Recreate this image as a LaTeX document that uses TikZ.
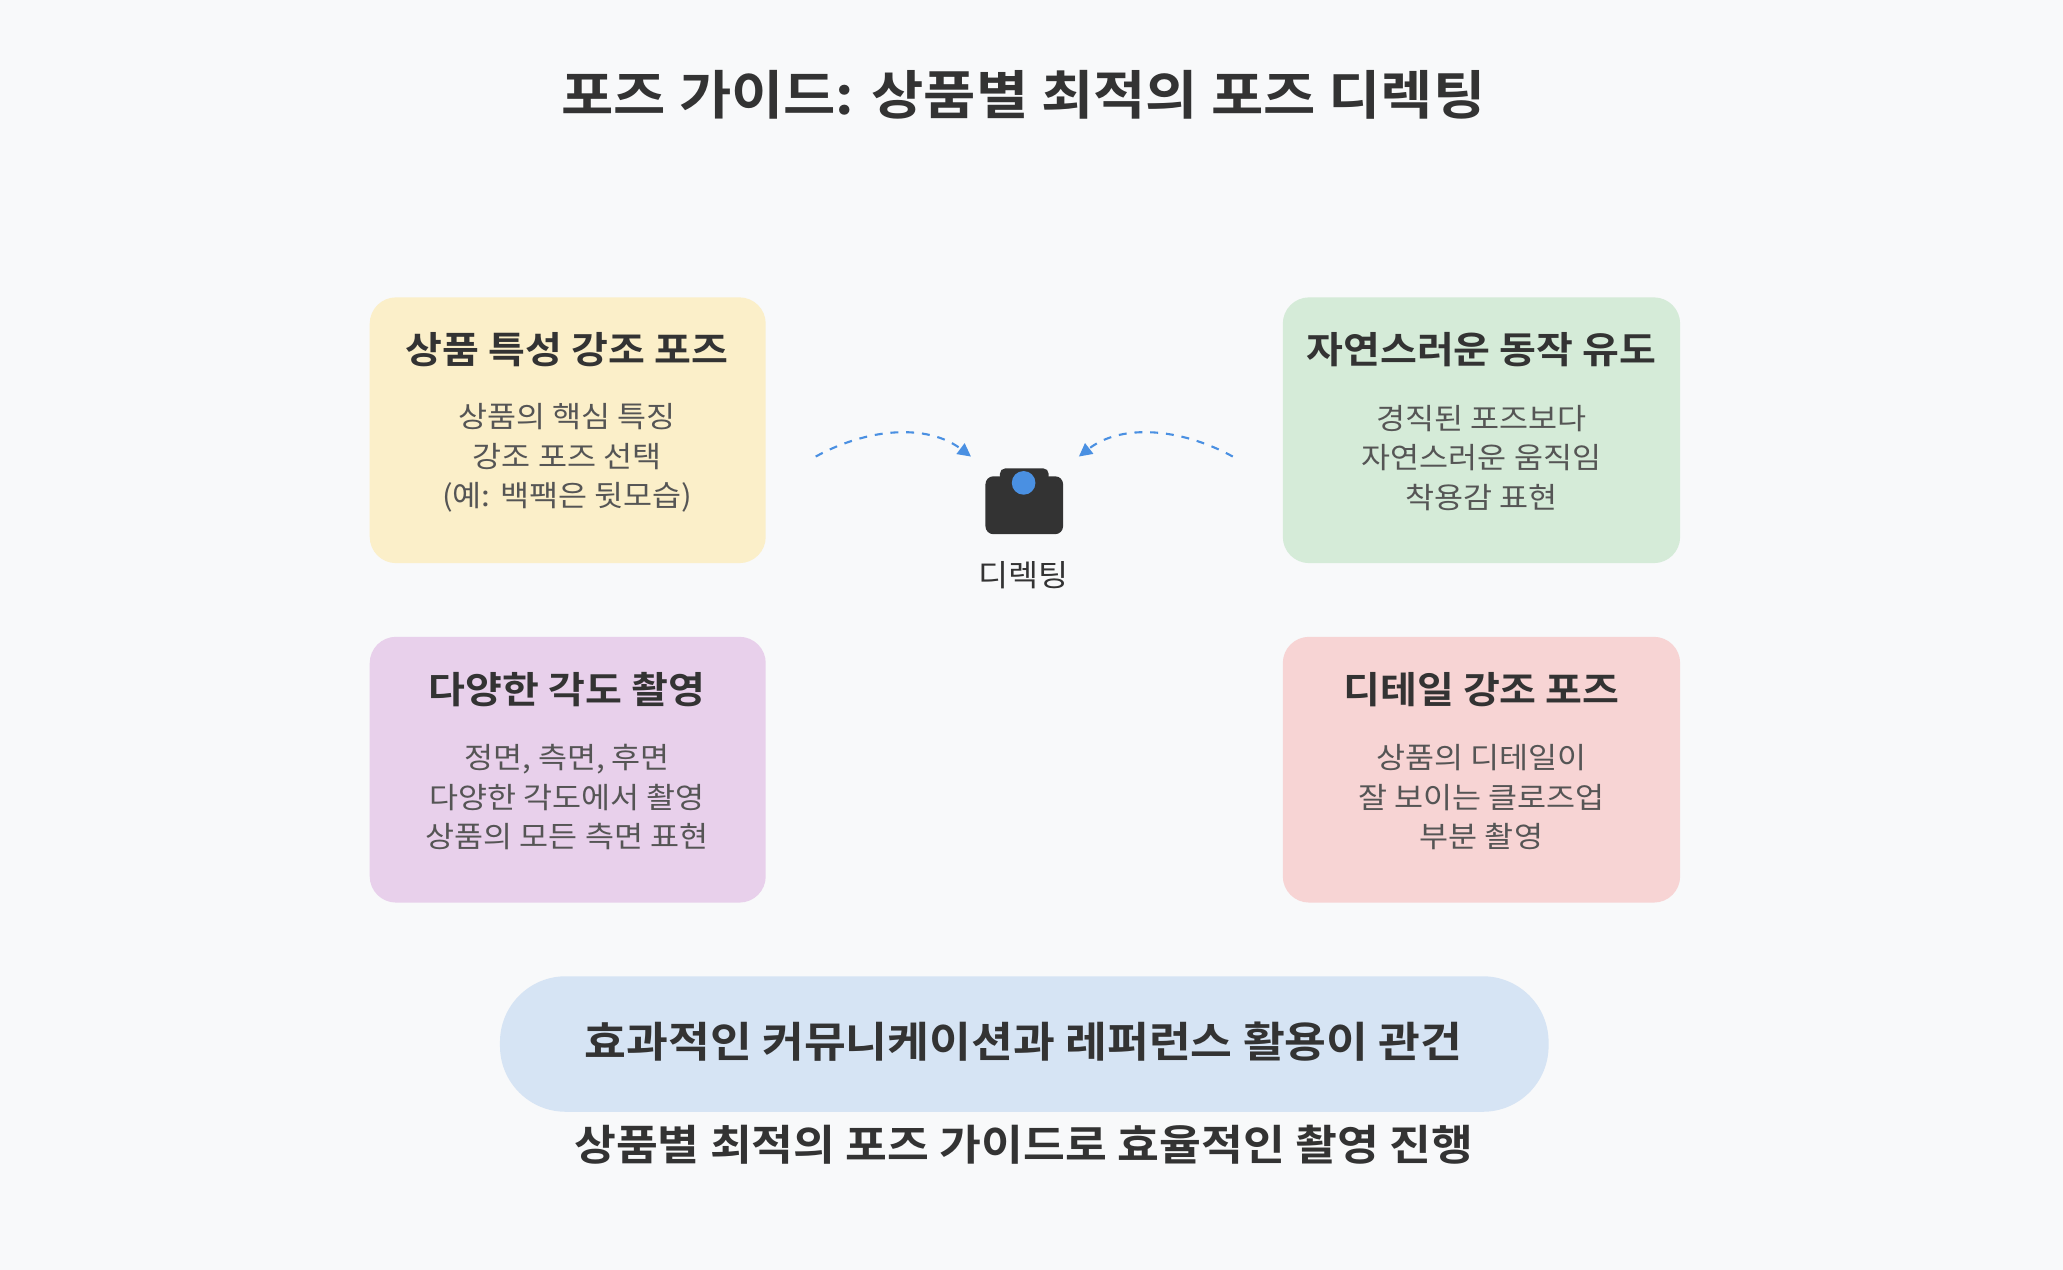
\documentclass[tikz,border=0pt]{standalone}
\usepackage{fontspec}
\setmainfont{Noto Sans CJK KR}[FakeStretch=1.08]
\newfontfamily\kb{Noto Sans CJK KR Bold}[FakeStretch=1.08]
\usetikzlibrary{arrows.meta}
\definecolor{bg}{HTML}{F8F9FA}
\definecolor{tx}{HTML}{333333}
\definecolor{sub}{HTML}{555555}
\definecolor{cy}{HTML}{FBEFC9}
\definecolor{cg}{HTML}{D5EBD8}
\definecolor{cp}{HTML}{E8D0EB}
\definecolor{cr}{HTML}{F7D4D4}
\definecolor{cb}{HTML}{D6E4F4}
\definecolor{ab}{HTML}{4A90E2}
\tikzset{
 card/.style={rounded corners=10pt,draw=none},
 ctitle/.style={font=\kb\fontsize{14.1}{16}\selectfont,text=tx},
 cbody/.style={font=\fontsize{11.1}{15}\selectfont,text=sub,align=center},
 big/.style={font=\kb\fontsize{16}{19}\selectfont,text=tx},
 dash arrow/.style={draw=ab,dashed,line width=0.8pt,-{Triangle[length=5pt,width=5pt]}}
}
\begin{document}
\begin{tikzpicture}[x=0.5pt,y=-0.5pt]
\fill[bg] (0,0) rectangle (1568,965);
\useasboundingbox (0,0) rectangle (1568,965);
\node[font=\kb\fontsize{20}{24}\selectfont,text=tx] (title) at (778,72) {포즈 가이드: 상품별 최적의 포즈 디렉팅};
\fill[card,cy] (281,226) rectangle (582,428);
\fill[card,cg] (975,226) rectangle (1277,428);
\fill[card,cp] (281,484) rectangle (582,686);
\fill[card,cr] (975,484) rectangle (1277,686);
\node[ctitle] (t1) at (431,266) {상품 특성 강조 포즈};
\node[cbody] (b1) at (431,348) {상품의 핵심 특징\\강조 포즈 선택\\(예: 백팩은 뒷모습)};
\node[ctitle] (t2) at (1126,266) {자연스러운 동작 유도};
\node[cbody] (b2) at (1126,348) {경직된 포즈보다\\자연스러운 움직임\\착용감 표현};
\node[ctitle] (t3) at (431,524) {다양한 각도 촬영};
\node[cbody] (b3) at (431,606) {정면, 측면, 후면\\다양한 각도에서 촬영\\상품의 모든 측면 표현};
\node[ctitle] (t4) at (1126,524) {디테일 강조 포즈};
\node[cbody] (b4) at (1126,606) {상품의 디테일이\\잘 보이는 클로즈업\\부분 촬영};
\fill[rounded corners=25pt,fill=cb] (380,742) rectangle (1177,845);
\node[big] (p) at (778,792) {효과적인 커뮤니케이션과 레퍼런스 활용이 관건};
\node[big] (bt) at (778,870) {상품별 최적의 포즈 가이드로 효율적인 촬영 진행};
\fill[tx,rounded corners=3pt] (749,362) rectangle (808,406);
\fill[tx,rounded corners=2pt] (760,356) rectangle (797,366);
\fill[ab] (778,367) circle (9);
\node[font=\fontsize{11.5}{13}\selectfont,text=tx] (lab) at (778,437) {디렉팅};
\coordinate (a1) at (620,347); \coordinate (a2) at (738,347);
\coordinate (c1) at (937,347); \coordinate (c2) at (820,347);
\draw[dash arrow] (a1) .. controls (660,325) and (705,322) .. (a2);
\draw[dash arrow] (c1) .. controls (897,325) and (852,322) .. (c2);
\end{tikzpicture}
\end{document}
